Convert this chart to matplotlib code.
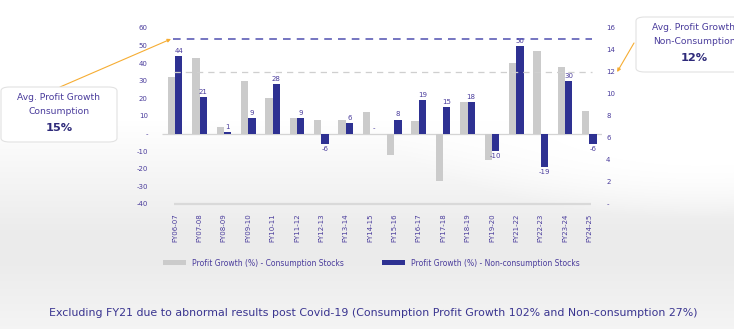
import numpy as np
import matplotlib
matplotlib.use("Agg")
import matplotlib.pyplot as plt
from matplotlib.patches import FancyBboxPatch, Patch
from matplotlib.ticker import FuncFormatter

# ---- data ---------------------------------------------------------------
years = ["FY06-07", "FY07-08", "FY08-09", "FY09-10", "FY10-11", "FY11-12",
         "FY12-13", "FY13-14", "FY14-15", "FY15-16", "FY16-17", "FY17-18",
         "FY18-19", "FY19-20", "FY21-22", "FY22-23", "FY23-24", "FY24-25"]
consumption = [32, 43, 4, 30, 20, 9, 8, 8, 12, -12, 7, -27, 18, -15, 40, 47, 38, 13]
non_consumption = [44, 21, 1, 9, 28, 9, -6, 6, 0, 8, 19, 15, 18, -10, 50, -19, 30, -6]
avg_consumption = 15
avg_non_consumption = 12
left_ticks = [-40, -30, -20, -10, 0, 10, 20, 30, 40, 50, 60]
right_ticks = [0, 2, 4, 6, 8, 10, 12, 14, 16]

# ---- styling ------------------------------------------------------------
W, H = 734, 329
GRAY = "#cbcbcb"
NAVY = "#2e3192"
TXT = "#4a3c9c"
ORANGE = "#f6ad33"
plt.rcParams["font.family"] = ["DejaVu Sans"]

fig = plt.figure(figsize=(W / 100, H / 100), dpi=100)
fig.patch.set_facecolor("white")

def fx(px):
    return px / W

def fy(py):
    return 1 - py / H

# soft grey backdrop with a lighter swirl on the right
bg = fig.add_axes([0, 0, 1, 1], zorder=-10)
yy, xx = np.mgrid[0:H, 0:W].astype(float)
band = np.clip((yy - 120) / 110, 0, 1)
d = ((xx - 700) / 280) ** 2 + ((yy - 105) / 95) ** 2
blob = np.clip(1.4 - d, 0, 1)
shade = band * (1 - blob)
shade *= 1 - 0.45 * np.clip((yy - 265) / 64, 0, 1)
lum = 1 - 0.075 * shade
bg.imshow(np.dstack([lum, lum, lum]), aspect="auto", extent=[0, W, H, 0])
bg.set_axis_off()

# ---- main axes ----------------------------------------------------------
L, R, T, B = 152, 602, 28, 204
ax = fig.add_axes([fx(L), fy(B), fx(R - L), (B - T) / H])
ax.patch.set_alpha(0)
x = np.arange(len(years))
bw = 0.3
ax.bar(x - bw / 2, consumption, bw, color=GRAY, zorder=2)
ax.bar(x + bw / 2, non_consumption, bw, color=NAVY, zorder=3)

ax.set_xlim(-0.95, len(years) - 1 + 0.52)
ax.set_ylim(-40, 60)
ax.hlines(0, -0.52, len(years) - 1 + 0.55, color="#d4d4d4", lw=0.9, zorder=1)
ax.hlines(-40, -0.05, len(years) - 1 + 0.05, color="#d9d9d9", lw=1.6, zorder=1,
          clip_on=False)

for s in ax.spines.values():
    s.set_visible(False)
ax.set_yticks(left_ticks)
fmt = FuncFormatter(lambda v, _: "-" if v == 0 else "%d" % v)
ax.yaxis.set_major_formatter(fmt)
ax.set_xticks(x)
ax.set_xticklabels(years, rotation=90)
ax.tick_params(axis="y", length=0, pad=3, labelsize=5, labelcolor=TXT)
ax.tick_params(axis="x", length=0, pad=7, labelsize=5, labelcolor=TXT)

# value labels on the non-consumption bars
for xi, v in zip(x, non_consumption):
    lab = "-" if v == 0 else "%d" % v
    if v >= 0:
        ax.annotate(lab, (xi + bw / 2, v), xytext=(0, 1.5), textcoords="offset points",
                    ha="center", va="bottom", fontsize=5, color=TXT, zorder=5)
    else:
        ax.annotate(lab, (xi + bw / 2, v), xytext=(0, -1.5), textcoords="offset points",
                    ha="center", va="top", fontsize=5, color=TXT, zorder=5)

# ---- secondary axis with average lines ----------------------------------
ax2 = ax.twinx()
ax2.patch.set_alpha(0)
ax2.set_ylim(0, 16)
ax2.set_yticks(right_ticks)
ax2.yaxis.set_major_formatter(fmt)
ax2.tick_params(axis="y", length=0, pad=3, labelsize=5, labelcolor=TXT)
for s in ax2.spines.values():
    s.set_visible(False)
ax2.hlines(avg_consumption, -0.1, len(years) - 1 + 0.1, color="#4f4fb0", lw=1.1,
           linestyles=(0, (5, 4)), zorder=4)
ax2.hlines(avg_non_consumption, -0.05, len(years) - 1 + 0.1, color="#cfcfcf", lw=0.9,
           linestyles=(0, (5, 4)), zorder=4)

# ---- callout boxes ------------------------------------------------------
def callout(cx, y_top, line2, pct):
    box = FancyBboxPatch((fx(cx - 58), fy(y_top + 55)), fx(116), 55 / H,
                         boxstyle="round,pad=0,rounding_size=0.012",
                         transform=fig.transFigure, facecolor="white",
                         edgecolor="#e2e2e2", lw=0.8, zorder=6)
    fig.add_artist(box)
    fig.text(fx(cx), fy(y_top + 10), "Avg. Profit Growth", ha="center", va="center",
             fontsize=6.6, color=TXT, zorder=7)
    fig.text(fx(cx), fy(y_top + 24), line2, ha="center", va="center",
             fontsize=6.6, color=TXT, zorder=7)
    fig.text(fx(cx), fy(y_top + 41), "%d%%" % pct, ha="center", va="center",
             fontsize=8.2, fontweight="bold", color="#2e2a7a", zorder=7)

callout(59, 87, "Consumption", avg_consumption)
callout(694, 17, "Non-Consumption", avg_non_consumption)

arrow = dict(arrowstyle="-|>", color=ORANGE, lw=0.8, mutation_scale=5,
             shrinkA=0, shrinkB=0)
ax2.annotate("", xy=(-0.17, avg_consumption), xytext=(fx(60), fy(87)),
             textcoords="figure fraction", arrowprops=arrow, annotation_clip=False)
ax2.annotate("", xy=(18.14, avg_non_consumption), xytext=(fx(634), fy(43)),
             textcoords="figure fraction", arrowprops=arrow, annotation_clip=False)

# ---- legend & footnote --------------------------------------------------
handles = [Patch(facecolor=GRAY, label="Profit Growth (%) - Consumption Stocks"),
           Patch(facecolor=NAVY, label="Profit Growth (%) - Non-consumption Stocks")]
fig.legend(handles=handles, loc="center left", bbox_to_anchor=(fx(156), fy(263)),
           ncol=2, frameon=False, fontsize=5.5, labelcolor=TXT,
           handlelength=3.0, handleheight=0.65, handletextpad=0.8, columnspacing=5.0)

fig.text(fx(373), fy(313),
         "Excluding FY21 due to abnormal results post Covid-19 "
         "(Consumption Profit Growth 102% and Non-consumption 27%)",
         ha="center", va="center", fontsize=7.95, color="#3a3590")

fig.savefig("out.png", dpi=100)
